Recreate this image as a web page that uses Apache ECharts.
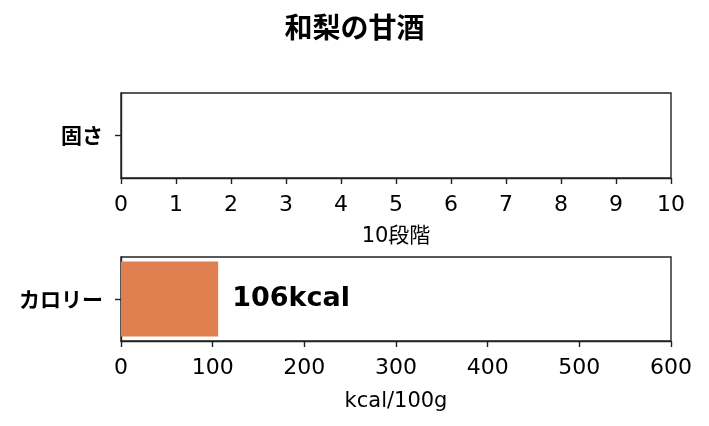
<!DOCTYPE html>
<html>
<head>
<meta charset="utf-8">
<script src="https://cdn.jsdelivr.net/npm/echarts@6/dist/echarts.min.js"></script>
<style>
    html, body { margin: 0; padding: 0; background: #fff; }
    #chart { width: 709px; height: 426px; }
</style>
</head>
<body>
<div id="chart"></div>
<script>
const chartTitle = '和梨の甘酒';
const hardnessCategories = ['固さ'];
const hardnessValues = [0];
const calorieCategories = ['カロリー'];
const calorieValues = [106];
const hardnessAxisName = '10段階';
const calorieAxisName = 'kcal/100g';

(function () {
    const chart = echarts.init(document.getElementById('chart'));
    const font = '"DejaVu Sans", "Noto Sans CJK JP", sans-serif';
    const cjk = '"Noto Sans CJK JP", "DejaVu Sans", sans-serif';
    const ink = '#222';

    function xAxis(gridIndex, max, interval, name, gap) {
        return {
            type: 'value',
            gridIndex: gridIndex,
            min: 0,
            max: max,
            interval: interval,
            name: name,
            nameLocation: 'middle',
            nameGap: gap,
            nameTextStyle: { fontFamily: font, fontSize: 21, color: '#000' },
            axisLine: { show: true, onZero: false, lineStyle: { color: ink, width: 1.4 } },
            axisTick: { show: true, length: 6, lineStyle: { color: ink, width: 1.4 } },
            axisLabel: { fontFamily: font, fontSize: 22, color: '#000', margin: 16 },
            splitLine: { show: false }
        };
    }

    function yAxis(gridIndex, cats) {
        return {
            type: 'category',
            gridIndex: gridIndex,
            data: cats,
            axisLine: { show: true, lineStyle: { color: ink, width: 1.4 } },
            axisTick: { show: true, length: 6, alignWithLabel: true, lineStyle: { color: ink, width: 1.4 } },
            axisLabel: { fontFamily: cjk, fontSize: 21, fontWeight: 'bold', color: '#000', margin: 18 }
        };
    }

    const option = {
        backgroundColor: '#fff',
        animation: false,
        title: {
            text: chartTitle,
            left: 'center',
            top: 8,
            textStyle: { fontFamily: cjk, fontSize: 28, fontWeight: 'bold', color: '#000' }
        },
        grid: [
            { left: 121, width: 550, top: 93, height: 85, show: true, borderColor: ink, borderWidth: 1.4 },
            { left: 121, width: 550, top: 257, height: 84, show: true, borderColor: ink, borderWidth: 1.4 }
        ],
        xAxis: [
            xAxis(0, 10, 1, hardnessAxisName, 48),
            xAxis(1, 600, 100, calorieAxisName, 50)
        ],
        yAxis: [
            yAxis(0, hardnessCategories),
            yAxis(1, calorieCategories)
        ],
        series: [
            {
                type: 'bar',
                xAxisIndex: 0,
                yAxisIndex: 0,
                data: hardnessValues,
                barWidth: '89%',
                itemStyle: { color: '#E07F4F' }
            },
            {
                type: 'bar',
                xAxisIndex: 1,
                yAxisIndex: 1,
                data: calorieValues,
                barWidth: '89%',
                itemStyle: { color: '#E07F4F' },
                label: {
                    show: true,
                    position: 'right',
                    distance: 14,
                    formatter: '{c}kcal',
                    fontFamily: font,
                    fontSize: 27,
                    fontWeight: 'bold',
                    color: '#000'
                }
            }
        ]
    };

    chart.setOption(option);
})();
</script>
</body>
</html>
